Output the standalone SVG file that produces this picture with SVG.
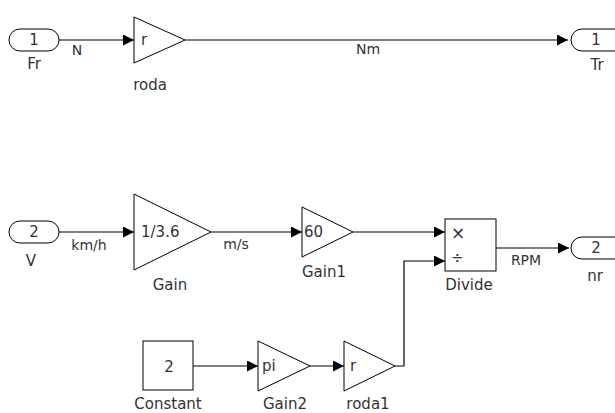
<svg xmlns="http://www.w3.org/2000/svg" width="615" height="413" viewBox="0 0 615 413">
<style>
.blk{fill:#fff;stroke:#000;stroke-width:1}
.ln{fill:none;stroke:#000;stroke-width:1.2}
text{font-family:"DejaVu Sans",Verdana,sans-serif;font-size:15px;fill:#333}
.c{text-anchor:middle}
.s{font-size:14px}
</style>
<defs>
<marker id="ah" viewBox="0 0 10 10" refX="10" refY="5" markerWidth="11" markerHeight="11" markerUnits="userSpaceOnUse" orient="auto">
<path d="M0,0 L10,5 L0,10 z" fill="#000"/>
</marker>
</defs>
<g id="connectors">
<path class="ln" d="M59,40 H134" marker-end="url(#ah)"/>
<path class="ln" d="M185,40 H568" marker-end="url(#ah)"/>
<path class="ln" d="M59,232 H134" marker-end="url(#ah)"/>
<path class="ln" d="M211,232 H302" marker-end="url(#ah)"/>
<path class="ln" d="M353,232 H445" marker-end="url(#ah)"/>
<path class="ln" d="M496,248 H569" marker-end="url(#ah)"/>
<path class="ln" d="M193,366 H258" marker-end="url(#ah)"/>
<path class="ln" d="M310,366 H344" marker-end="url(#ah)"/>
<path class="ln" d="M395,366 H404 V261 H445" marker-end="url(#ah)"/>
<text class="c s" x="77" y="55">N</text>
<text class="c s" x="368" y="54">Nm</text>
<text class="c s" x="89" y="250">km/h</text>
<text class="c s" x="236" y="249">m/s</text>
<text class="c s" x="526" y="265">RPM</text>
</g>
<g id="Fr">
<rect class="blk" x="9" y="29" width="50" height="22" rx="11" ry="11"/>
<text class="c" x="34" y="45">1</text>
<text class="c" x="34" y="69">Fr</text>
</g>
<g id="roda">
<path class="blk" d="M134,17 L185,40 L134,63 Z"/>
<text x="141" y="45">r</text>
<text class="c" x="150" y="90">roda</text>
</g>
<g id="Tr">
<rect class="blk" x="571" y="29" width="60" height="22" rx="11" ry="11"/>
<text class="c" x="596" y="45">1</text>
<text class="c" x="597" y="70">Tr</text>
</g>
<g id="V">
<rect class="blk" x="9" y="221" width="50" height="22" rx="11" ry="11"/>
<text class="c" x="34" y="237">2</text>
<text class="c" x="31" y="266">V</text>
</g>
<g id="Gain">
<path class="blk" d="M134,194 L211,232 L134,270 Z"/>
<text x="141" y="237">1/3.6</text>
<text class="c" x="170" y="290">Gain</text>
</g>
<g id="Gain1">
<path class="blk" d="M302,207 L353,232 L302,257 Z"/>
<text x="304" y="237">60</text>
<text class="c" x="324" y="277">Gain1</text>
</g>
<g id="Divide">
<rect class="blk" x="445" y="219" width="51" height="52"/>
<text x="451" y="239" style="font-size:17px">×</text>
<text x="451" y="263" style="font-size:15px">÷</text>
<text class="c" x="469" y="290">Divide</text>
</g>
<g id="nr">
<rect class="blk" x="571" y="237" width="60" height="22" rx="11" ry="11"/>
<text class="c" x="596" y="253">2</text>
<text class="c" x="595" y="281">nr</text>
</g>
<g id="Constant">
<rect class="blk" x="143" y="341" width="50" height="49"/>
<text class="c" x="169" y="372">2</text>
<text class="c" x="168" y="409">Constant</text>
</g>
<g id="Gain2">
<path class="blk" d="M258,341 L310,366 L258,391 Z"/>
<text x="262" y="371">pi</text>
<text class="c" x="285" y="409">Gain2</text>
</g>
<g id="roda1">
<path class="blk" d="M344,341 L395,366 L344,391 Z"/>
<text x="350" y="371">r</text>
<text class="c" x="368" y="409">roda1</text>
</g>
</svg>
